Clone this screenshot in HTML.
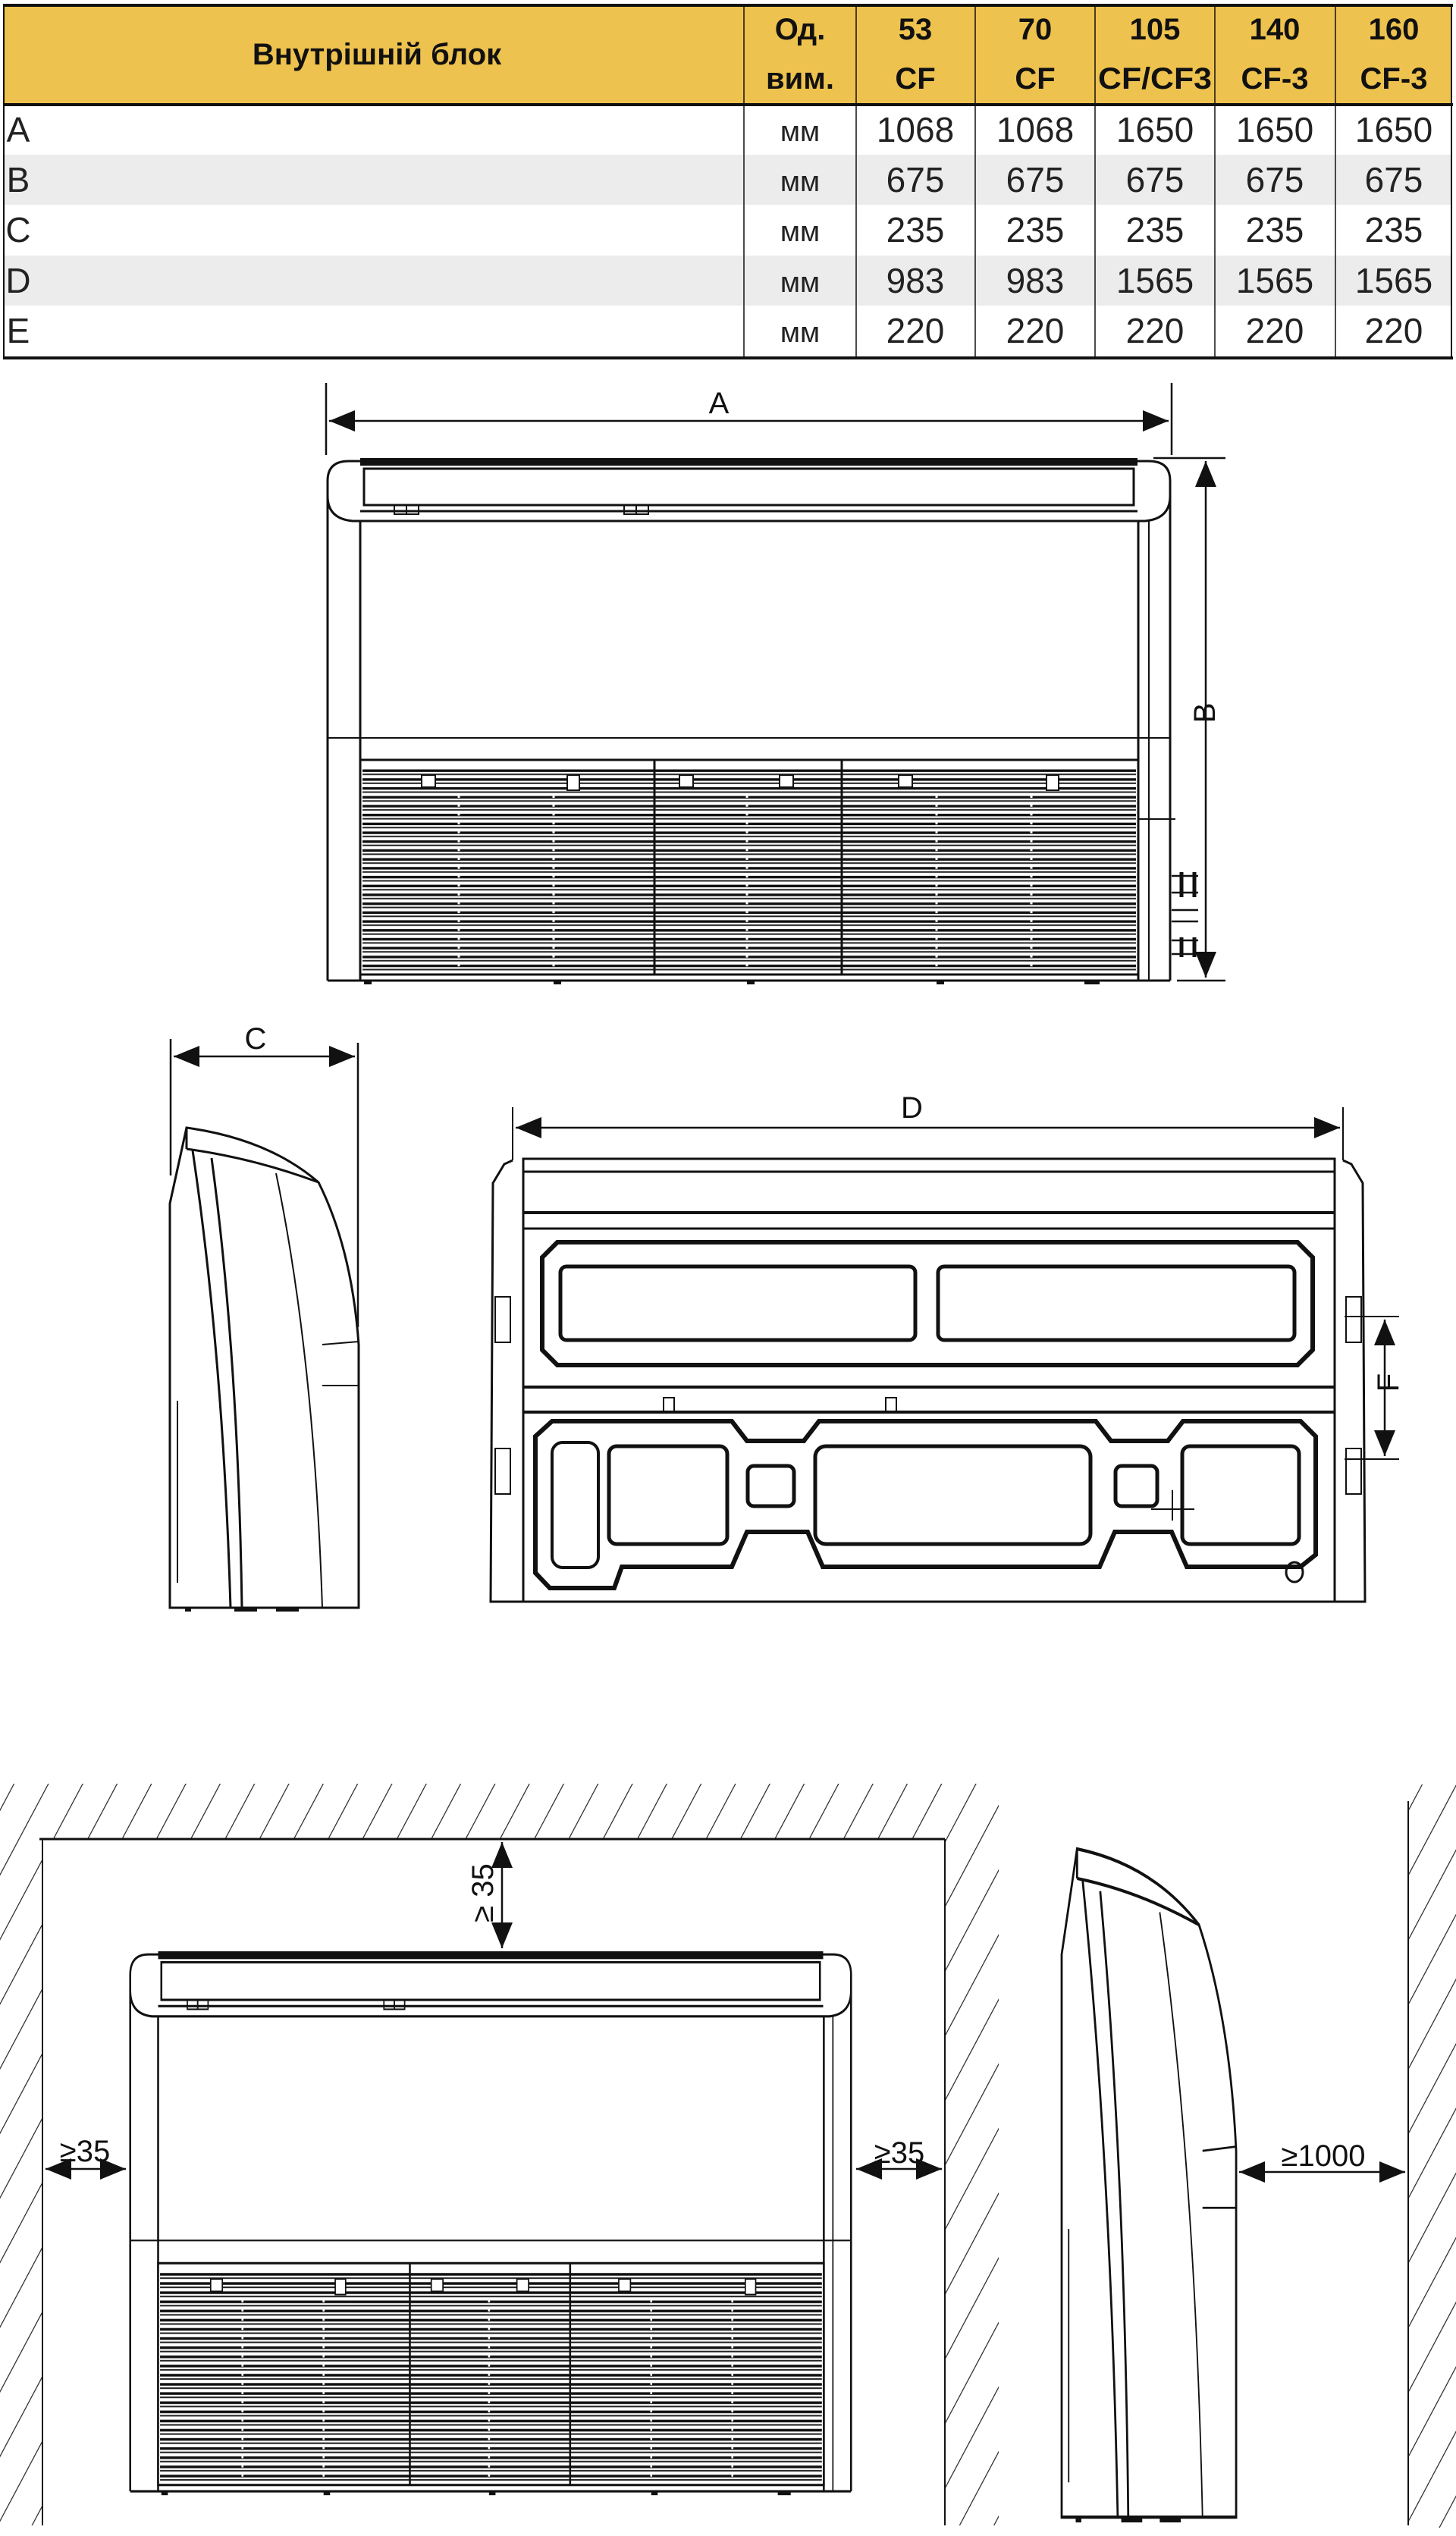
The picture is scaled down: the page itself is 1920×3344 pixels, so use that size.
<!DOCTYPE html>
<html><head><meta charset="utf-8"><style>
html,body{margin:0;padding:0;background:#fff;}
svg{display:block;}
.t{font-family:"Liberation Sans",sans-serif;}
</style></head><body>
<svg width="1920" height="3344" viewBox="0 0 1920 3344" xmlns="http://www.w3.org/2000/svg">
<defs>
<pattern id="lv" x="0" y="0" width="20" height="11.7" patternUnits="userSpaceOnUse">
<rect x="0" y="1" width="20" height="3.4" fill="#111"/>
<rect x="0" y="6.6" width="20" height="2" fill="#222"/>
</pattern>
<pattern id="hatch" width="40" height="40" patternUnits="userSpaceOnUse" patternTransform="rotate(28)">
<line x1="0" y1="0" x2="0" y2="40" stroke="#222" stroke-width="2.4"/>
</pattern>
<marker id="ahb" viewBox="0 0 10 10" refX="10" refY="5" markerWidth="34" markerHeight="28" orient="auto-start-reverse" markerUnits="userSpaceOnUse" preserveAspectRatio="none">
<path d="M0,0 L10,5 L0,10 z" fill="#111"/>
</marker>

<g id="front" fill="none" stroke="#111" stroke-width="3">
  <path d="M30,4 L1085,4 Q1113,4 1113,30 L1113,50 Q1113,80 1080,83 L35,83 Q2,80 2,50 L2,30 Q2,4 30,4 z" fill="#fff"/>
  <rect x="45" y="0" width="1025" height="10" fill="#111" stroke="none"/>
  <rect x="50" y="14" width="1015" height="48"/>
  <line x1="45" y1="70" x2="1070" y2="70"/>
  <rect x="90" y="62" width="16" height="12" stroke-width="2"/>
  <rect x="106" y="62" width="16" height="12" stroke-width="2"/>
  <rect x="393" y="62" width="16" height="12" stroke-width="2"/>
  <rect x="409" y="62" width="16" height="12" stroke-width="2"/>
  <line x1="2" y1="50" x2="2" y2="689"/>
  <line x1="1113" y1="50" x2="1113" y2="689"/>
  <line x1="45" y1="83" x2="45" y2="689"/>
  <line x1="1071" y1="83" x2="1071" y2="689"/>
  <line x1="1085" y1="83" x2="1085" y2="689" stroke-width="2"/>
  <line x1="2" y1="689" x2="1113" y2="689"/>
  <line x1="2" y1="369" x2="1113" y2="369" stroke-width="2"/>
  <rect x="45" y="398" width="1026" height="283" fill="#fff"/>
  <rect x="48" y="408" width="1020" height="270" fill="url(#lv)" stroke="none"/>
  <line x1="433" y1="398" x2="433" y2="681"/>
  <line x1="680" y1="398" x2="680" y2="681"/>
  <rect x="126" y="418" width="18" height="16" fill="#fff" stroke-width="2"/>
  <rect x="318" y="418" width="16" height="20" fill="#fff" stroke-width="2"/>
  <rect x="466" y="418" width="18" height="16" fill="#fff" stroke-width="2"/>
  <rect x="598" y="418" width="18" height="16" fill="#fff" stroke-width="2"/>
  <rect x="755" y="418" width="18" height="16" fill="#fff" stroke-width="2"/>
  <rect x="950" y="418" width="16" height="20" fill="#fff" stroke-width="2"/>
  <g stroke="#fff" stroke-width="3" stroke-dasharray="3 8.7">
    <line x1="175" y1="445" x2="175" y2="675"/>
    <line x1="300" y1="445" x2="300" y2="675"/>
    <line x1="555" y1="445" x2="555" y2="675"/>
    <line x1="805" y1="445" x2="805" y2="675"/>
    <line x1="930" y1="445" x2="930" y2="675"/>
  </g>
  <g fill="#111" stroke="none">
    <rect x="50" y="689" width="10" height="5"/><rect x="300" y="689" width="10" height="5"/>
    <rect x="555" y="689" width="10" height="5"/><rect x="805" y="689" width="10" height="5"/>
    <rect x="1000" y="689" width="20" height="5"/>
  </g>
</g>

<g id="side" fill="none" stroke="#111" stroke-width="3">
  <path d="M22,0 L0,100 L0,633 L249,633 L249,286 Q240,160 196,72 Q130,15 22,0 z" fill="#fff"/>
  <path d="M22,0 L22,28"/>
  <path d="M22,28 Q110,40 196,72"/>
  <path d="M30,30 Q70,300 80,633"/>
  <path d="M55,40 Q90,300 95,633"/>
  <path d="M140,60 Q190,300 201,633" stroke-width="2"/>
  <line x1="201" y1="286" x2="249" y2="282" stroke-width="2"/>
  <line x1="201" y1="340" x2="249" y2="340" stroke-width="2"/>
  <line x1="10" y1="360" x2="10" y2="600" stroke-width="2"/>
  <g fill="#111" stroke="none"><rect x="20" y="633" width="8" height="5"/><rect x="85" y="633" width="30" height="5"/><rect x="140" y="633" width="30" height="5"/></g>
</g>
</defs>

<!-- TABLE -->
<rect x="6" y="7" width="1908" height="131" fill="#eec24e"/>
<rect x="6" y="204" width="1908" height="66" fill="#ececec"/>
<rect x="6" y="337" width="1908" height="66" fill="#ececec"/>
<g stroke="#111">
<line x1="4" y1="7" x2="1916" y2="7" stroke-width="4"/>
<line x1="4" y1="138" x2="1916" y2="138" stroke-width="4"/>
<line x1="4" y1="472" x2="1916" y2="472" stroke-width="4"/>
<line x1="5" y1="7" x2="5" y2="472" stroke-width="2"/>
<line x1="1914" y1="7" x2="1914" y2="472" stroke-width="2"/>
<g stroke-width="1.5">
<line x1="981" y1="7" x2="981" y2="472"/><line x1="1129" y1="7" x2="1129" y2="472"/>
<line x1="1286" y1="7" x2="1286" y2="472"/><line x1="1444" y1="7" x2="1444" y2="472"/>
<line x1="1602" y1="7" x2="1602" y2="472"/><line x1="1761" y1="7" x2="1761" y2="472"/>
</g></g>
<g class="t" font-weight="bold" font-size="40" fill="#111" text-anchor="middle">
<text x="497" y="85">Внутрішній блок</text>
<text x="1055" y="52">Од.</text><text x="1055" y="117">вим.</text>
<text x="1207" y="52">53</text><text x="1207" y="117">CF</text>
<text x="1365" y="52">70</text><text x="1365" y="117">CF</text>
<text x="1523" y="52">105</text><text x="1523" y="117" textLength="150" lengthAdjust="spacingAndGlyphs">CF/CF3</text>
<text x="1681" y="52">140</text><text x="1681" y="117">CF-3</text>
<text x="1838" y="52">160</text><text x="1838" y="117">CF-3</text>
</g>
<g class="t" font-size="46" fill="#222" text-anchor="middle">
<text x="24" y="187">A</text><text x="24" y="253">B</text><text x="24" y="319">C</text><text x="24" y="386">D</text><text x="24" y="452">E</text>
<g font-size="38"><text x="1055" y="186">мм</text><text x="1055" y="252">мм</text><text x="1055" y="318">мм</text><text x="1055" y="385">мм</text><text x="1055" y="451">мм</text></g>
<text x="1207" y="187">1068</text><text x="1365" y="187">1068</text><text x="1523" y="187">1650</text><text x="1681" y="187">1650</text><text x="1838" y="187">1650</text>
<text x="1207" y="253">675</text><text x="1365" y="253">675</text><text x="1523" y="253">675</text><text x="1681" y="253">675</text><text x="1838" y="253">675</text>
<text x="1207" y="319">235</text><text x="1365" y="319">235</text><text x="1523" y="319">235</text><text x="1681" y="319">235</text><text x="1838" y="319">235</text>
<text x="1207" y="386">983</text><text x="1365" y="386">983</text><text x="1523" y="386">1565</text><text x="1681" y="386">1565</text><text x="1838" y="386">1565</text>
<text x="1207" y="452">220</text><text x="1365" y="452">220</text><text x="1523" y="452">220</text><text x="1681" y="452">220</text><text x="1838" y="452">220</text>
</g>

<!-- FRONT VIEW 1 -->
<use href="#front" transform="translate(430,604)"/>
<g stroke="#111" stroke-width="2.5" fill="none">
<line x1="430" y1="505" x2="430" y2="600"/>
<line x1="1545" y1="505" x2="1545" y2="600"/>
<line x1="434" y1="555" x2="1541" y2="555" marker-start="url(#ahb)" marker-end="url(#ahb)"/>
<line x1="1521" y1="604" x2="1616" y2="604"/>
<line x1="1552" y1="1293" x2="1616" y2="1293"/>
<line x1="1590" y1="608" x2="1590" y2="1289" marker-start="url(#ahb)" marker-end="url(#ahb)"/>
<line x1="1501" y1="1080" x2="1550" y2="1080" stroke-width="2"/>
<line x1="1545" y1="1155" x2="1580" y2="1155"/><line x1="1545" y1="1177" x2="1580" y2="1177"/>
<line x1="1558" y1="1150" x2="1558" y2="1183" stroke-width="5"/><line x1="1575" y1="1150" x2="1575" y2="1183" stroke-width="5"/>
<line x1="1545" y1="1200" x2="1580" y2="1200"/><line x1="1545" y1="1215" x2="1580" y2="1215"/>
<line x1="1545" y1="1240" x2="1580" y2="1240"/><line x1="1545" y1="1258" x2="1580" y2="1258"/>
<line x1="1558" y1="1236" x2="1558" y2="1262" stroke-width="5"/><line x1="1575" y1="1236" x2="1575" y2="1262" stroke-width="5"/>
</g>
<text class="t" x="948" y="545" font-size="40" text-anchor="middle" fill="#111">A</text>
<text class="t" font-size="40" fill="#111" text-anchor="middle" transform="translate(1602,940) rotate(-90)">B</text>

<!-- SIDE VIEW 1 -->
<use href="#side" transform="translate(224,1487)"/>
<g stroke="#111" stroke-width="2.5">
<line x1="225" y1="1370" x2="225" y2="1550"/>
<line x1="472" y1="1375" x2="472" y2="1750"/>
<line x1="229" y1="1393" x2="468" y2="1393" marker-start="url(#ahb)" marker-end="url(#ahb)"/>
</g>
<text class="t" x="337" y="1383" font-size="40" text-anchor="middle" fill="#111">C</text>

<!-- D VIEW -->
<g fill="none" stroke="#111" stroke-width="3">
<line x1="676" y1="1460" x2="676" y2="1530" stroke-width="2"/>
<line x1="1771" y1="1460" x2="1771" y2="1530" stroke-width="2"/>
<line x1="680" y1="1487" x2="1767" y2="1487" stroke-width="2.5" marker-start="url(#ahb)" marker-end="url(#ahb)"/>
<path d="M676,1530 L665,1535 L650,1560 L647,2112 L1800,2112 L1797,1560 L1782,1535 L1771,1530"/>
<rect x="690" y="1528" width="1070" height="584"/>
<line x1="690" y1="1545" x2="1760" y2="1545"/>
<line x1="690" y1="1599" x2="1760" y2="1599" stroke-width="4"/>
<line x1="690" y1="1620" x2="1760" y2="1620"/>
<path d="M735,1638 L1711,1638 L1731,1658 L1731,1780 L1711,1800 L735,1800 L715,1780 L715,1658 z" stroke-width="6"/>
<rect x="739" y="1670" width="468" height="97" rx="8" stroke-width="5"/>
<rect x="1237" y="1670" width="470" height="97" rx="8" stroke-width="5"/>
<line x1="690" y1="1829" x2="1760" y2="1829" stroke-width="4"/>
<line x1="690" y1="1862" x2="1760" y2="1862" stroke-width="4"/>
<rect x="875" y="1843" width="14" height="18" stroke-width="2"/>
<rect x="1168" y="1843" width="14" height="18" stroke-width="2"/>
<path d="M728,1874 L965,1874 L985,1900 L1060,1900 L1080,1874 L1445,1874 L1465,1900 L1540,1900 L1560,1874 L1715,1874 L1735,1894 L1735,2050 L1715,2066 L1565,2066 L1545,2020 L1470,2020 L1450,2066 L1085,2066 L1065,2020 L985,2020 L965,2066 L820,2066 L810,2094 L725,2094 L706,2074 L706,1894 z" stroke-width="6"/>
<rect x="728" y="1902" width="61" height="165" rx="14" stroke-width="4"/>
<rect x="803" y="1907" width="156" height="129" rx="10" stroke-width="5"/>
<rect x="1075" y="1907" width="363" height="129" rx="14" stroke-width="5"/>
<rect x="1559" y="1907" width="154" height="129" rx="10" stroke-width="5"/>
<rect x="986" y="1933" width="61" height="53" rx="8" stroke-width="5"/>
<rect x="1471" y="1933" width="55" height="53" rx="8" stroke-width="5"/>
<ellipse cx="1707" cy="2073" rx="11" ry="13" stroke-width="3"/>
<line x1="1518" y1="1990" x2="1575" y2="1990" stroke-width="2"/>
<line x1="1546" y1="1965" x2="1546" y2="2005" stroke-width="2"/>
<rect x="653" y="1710" width="20" height="60" stroke-width="2"/>
<rect x="1775" y="1710" width="20" height="60" stroke-width="2"/>
<rect x="653" y="1910" width="20" height="60" stroke-width="2"/>
<rect x="1775" y="1910" width="20" height="60" stroke-width="2"/>
<line x1="1773" y1="1736" x2="1845" y2="1736" stroke-width="2"/>
<line x1="1773" y1="1924" x2="1845" y2="1924" stroke-width="2"/>
<line x1="1826" y1="1740" x2="1826" y2="1920" stroke-width="2.5" marker-start="url(#ahb)" marker-end="url(#ahb)"/>
</g>
<text class="t" x="1188" y="1474" font-size="40" fill="#111">D</text>
<text class="t" font-size="40" fill="#111" text-anchor="middle" transform="translate(1844,1823) rotate(-90)">F</text>

<!-- INSTALLATION -->
<rect x="0" y="2352" width="1317" height="73" fill="url(#hatch)"/>
<rect x="0" y="2425" width="56" height="905" fill="url(#hatch)"/>
<rect x="1246" y="2425" width="71" height="905" fill="url(#hatch)"/>
<rect x="1857" y="2353" width="63" height="980" fill="url(#hatch)"/>
<g stroke="#111" stroke-width="2">
<line x1="52" y1="2425" x2="1246" y2="2425" stroke-width="3"/>
<line x1="56" y1="2425" x2="56" y2="3330"/>
<line x1="1246" y1="2425" x2="1246" y2="3330"/>
<line x1="1857" y1="2375" x2="1857" y2="3330"/>
</g>
<use href="#front" transform="translate(170,2573) scale(0.8556,1.0334)"/>
<use href="#side" transform="translate(1400,2438) scale(0.924,1.392)"/>
<g stroke="#111" stroke-width="2.5">
<line x1="662" y1="2429" x2="662" y2="2569" marker-start="url(#ahb)" marker-end="url(#ahb)"/>
<line x1="60" y1="2860" x2="166" y2="2860" marker-start="url(#ahb)" marker-end="url(#ahb)"/>
<line x1="1129" y1="2860" x2="1242" y2="2860" marker-start="url(#ahb)" marker-end="url(#ahb)"/>
<line x1="1634" y1="2864" x2="1853" y2="2864" marker-start="url(#ahb)" marker-end="url(#ahb)"/>
</g>
<g class="t" font-size="40" fill="#111">
<text transform="translate(650,2496) rotate(-90)" text-anchor="middle">≥ 35</text>
<text x="112" y="2850" text-anchor="middle">≥35</text>
<text x="1186" y="2852" text-anchor="middle">≥35</text>
<text x="1745" y="2856" text-anchor="middle">≥1000</text>
</g>
</svg>
</body></html>
